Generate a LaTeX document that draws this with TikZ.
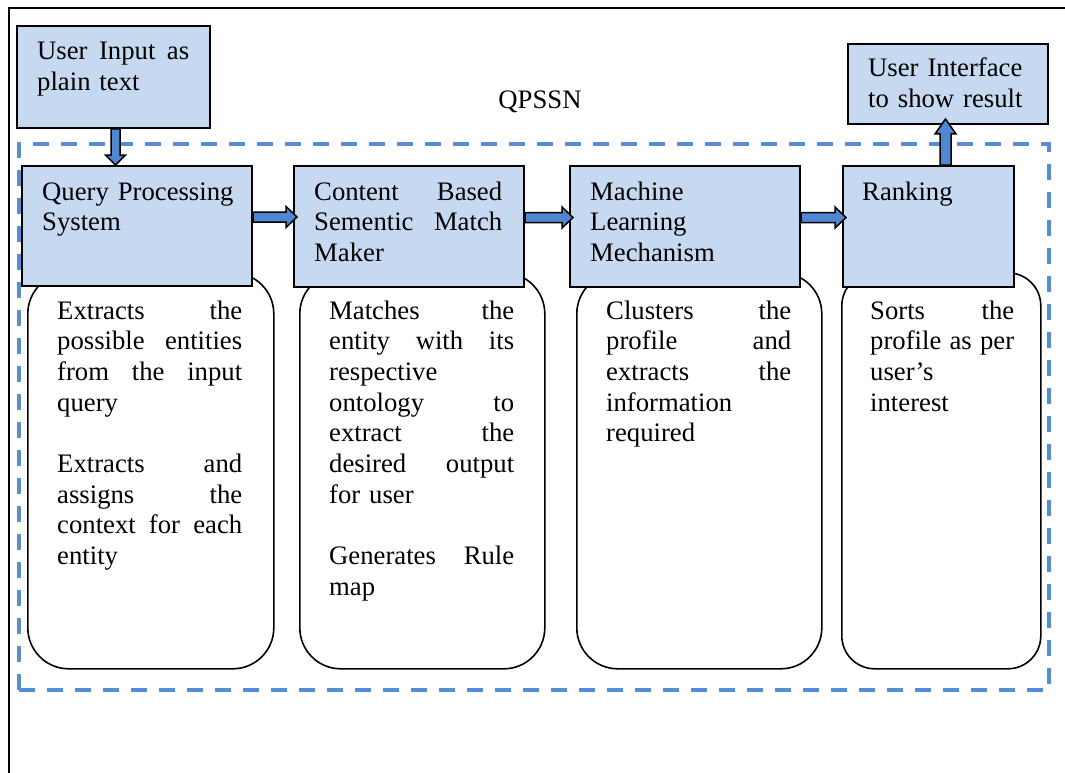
\documentclass[tikz,border=0pt]{standalone}
\usepackage{fontspec}
\setmainfont{Liberation Serif}
\usetikzlibrary{calc}
\definecolor{boxfill}{HTML}{C6D9F1}
\definecolor{dashblue}{HTML}{558ED5}
\definecolor{arrowblue}{HTML}{4F88D0}
\newcommand{\jl}[1]{\leavevmode\hbox to \hsize{\spaceskip=0.25em plus 10em minus 0.05em #1}}
\newcommand{\harr}[2]{\draw[blockarrow] let \p1=($(#1.east)+(0,-9)$), \p2=(#2.west) in (\x1,\y1+5pt) -- (\x2-7pt,\y1+5pt) -- (\x2-7pt,\y1+10.5pt) -- (\x2+4pt,\y1) -- (\x2-7pt,\y1-10.5pt) -- (\x2-7pt,\y1-5pt) -- (\x1,\y1-5pt) -- cycle;}
\begin{document}
\begin{tikzpicture}[x=1pt,y=-1pt,
  bluebox/.style={draw=black, line width=2pt, fill=boxfill, anchor=north west, inner sep=0pt},
  roundbox/.style={draw=black, line width=1.6pt, fill=white, anchor=north west, inner sep=0pt},
  frame/.style={draw=dashblue, line width=4pt, dash pattern=on 16pt off 12pt, anchor=north west, inner sep=0pt},
  txt/.style={anchor=base west, inner sep=0pt, font=\fontsize{26.7}{30.7}\selectfont},
  blockarrow/.style={draw=black, line width=1.5pt, fill=arrowblue, line join=miter}]
\useasboundingbox (0,0) rectangle (1065,773);
% outer frame (top and left only)
\coordinate (fb) at (9,773);
\coordinate (fc) at (9,8);
\coordinate (fr) at (1065,8);
\draw[line width=1.3pt] (fb) -- (fc) -- (fr);
% dashed QPSSN frame
\node[frame, minimum width=1030pt, minimum height=546pt] (qframe) at (17,142) {};
\node[txt, anchor=base] (qpssn) at (540,109) {QPSSN};
% rounded description boxes
\node[roundbox, minimum width=246pt, minimum height=396pt, rounded corners=41pt] (r1) at (27,272) {};
\node[roundbox, minimum width=245pt, minimum height=396pt, rounded corners=41pt] (r2) at (299,272) {};
\node[roundbox, minimum width=245pt, minimum height=396pt, rounded corners=41pt] (r3) at (576,272) {};
\node[roundbox, minimum width=199pt, minimum height=396pt, rounded corners=33pt] (r4) at (841,272) {};
% blue boxes
\node[bluebox, minimum width=193pt, minimum height=102pt] (ui) at (16,25) {};
\node[bluebox, minimum width=200pt, minimum height=80pt] (uib) at (847,43) {};
\node[bluebox, minimum width=230pt, minimum height=120pt] (qps) at (21,165) {};
\node[bluebox, minimum width=230pt, minimum height=121pt] (cbm) at (293,165) {};
\node[bluebox, minimum width=230pt, minimum height=121pt] (mlm) at (569,165) {};
\node[bluebox, minimum width=171pt, minimum height=121pt] (rank) at (842,165) {};
% arrows
\draw[blockarrow] let \p1=($(ui.south)+(2,0)$), \p2=(qps.north) in
  (\x1-4.5pt,\y1) -- (\x1-4.5pt,\y2+10pt) -- (\x1-10pt,\y2+10pt) -- (\x1,\y2) -- (\x1+10pt,\y2+10pt) -- (\x1+4.5pt,\y2+10pt) -- (\x1+4.5pt,\y1) -- cycle;
\harr{qps}{cbm}
\harr{cbm}{mlm}
\harr{mlm}{rank}
\draw[blockarrow] let \p1=($(rank.north)+(17,0)$), \p2=(uib.south) in
  (\x1-5.5pt,\y1) -- (\x1-5.5pt,\y2-9pt) -- (\x1-10.5pt,\y2-9pt) -- (\x1,\y2+6pt) -- (\x1+10.5pt,\y2-9pt) -- (\x1+5.5pt,\y2-9pt) -- (\x1+5.5pt,\y1) -- cycle;
% texts
\node[txt, text width=152pt] (uit) at (37,60) {\jl{User Input as}\\plain text};
\node[txt, text width=165pt] (uibt) at (868,77) {User Interface\\to show result};
\node[txt, text width=196pt] (qpst) at (42,200) {Query Processing\\System};
\node[txt, text width=188pt] (cbmt) at (314,200) {\jl{Content Based}\\\jl{Sementic Match}\\Maker};
\node[txt, text width=190pt] (mlmt) at (590,200) {Machine\\Learning\\Mechanism};
\node[txt, text width=140pt] (rankt) at (862,200) {Ranking};
\node[txt, text width=185pt] (r1t) at (57,319) {\jl{Extracts the}\\\jl{possible entities}\\\jl{from the input}\\query\\[30.7pt]\jl{Extracts and}\\\jl{assigns the}\\\jl{context for each}\\entity};
\node[txt, text width=185pt] (r2t) at (329,319) {\jl{Matches the}\\\jl{entity with its}\\respective\\\jl{ontology to}\\\jl{extract the}\\\jl{desired output}\\for user\\[30.7pt]\jl{Generates Rule}\\map};
\node[txt, text width=185pt] (r3t) at (606,319) {\jl{Clusters the}\\\jl{profile and}\\\jl{extracts the}\\information\\required};
\node[txt, text width=144pt] (r4t) at (870,319) {\jl{Sorts the}\\\jl{profile as per}\\user’s\\interest};
\end{tikzpicture}
\end{document}
